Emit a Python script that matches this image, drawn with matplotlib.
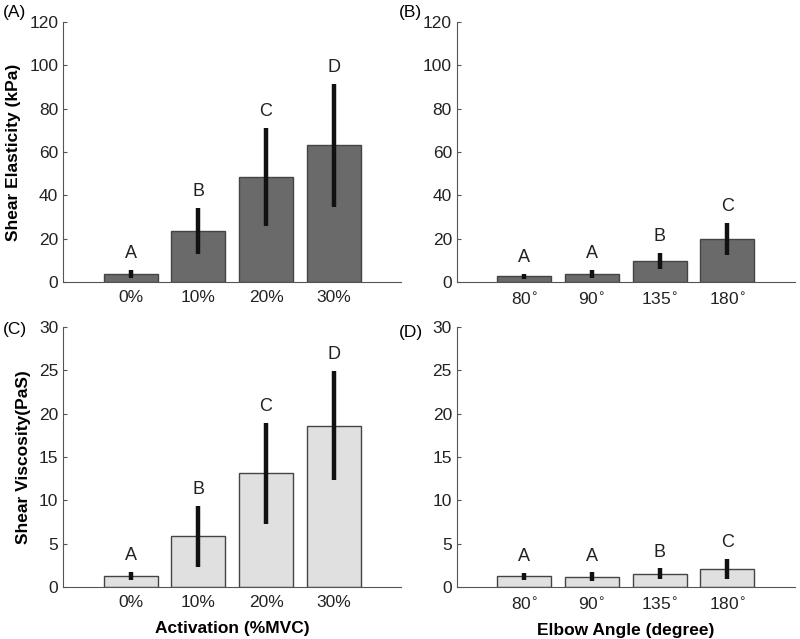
import numpy as np
import matplotlib.pyplot as plt

plt.rcParams['font.family'] = ['Liberation Sans', 'DejaVu Sans']

activation = ["0%", "10%", "20%", "30%"]
angles = ["80$^{\\circ}$", "90$^{\\circ}$", "135$^{\\circ}$", "180$^{\\circ}$"]

# shear elasticity (kPa)
elast_act = [3.8, 23.6, 48.5, 63.1]
elast_act_sd = [1.9, 10.5, 22.5, 28.5]
elast_ang = [2.6, 3.7, 9.7, 20.0]
elast_ang_sd = [1.1, 2.0, 3.8, 7.4]

# shear viscosity (PaS)
visc_act = [1.23, 5.85, 13.1, 18.6]
visc_act_sd = [0.48, 3.5, 5.8, 6.3]
visc_ang = [1.23, 1.2, 1.52, 2.1]
visc_ang_sd = [0.38, 0.5, 0.63, 1.15]

letters_act = ["A", "B", "C", "D"]
letters_ang = ["A", "A", "B", "C"]

dark = "#6a6a6a"
light = "#e0e0e0"
spine_col = "#555555"


def panel(ax, labels, vals, sds, letters, color, ymax, ystep):
    x = np.arange(1, len(vals) + 1)
    ax.bar(x, vals, width=0.8, color=color, edgecolor="#444444", linewidth=1.0)
    ax.errorbar(x, vals, yerr=sds, fmt="none", ecolor="#111111", elinewidth=3.2, capsize=0)
    off = ymax / 16.0
    for xi, v, s, t in zip(x, vals, sds, letters):
        ax.text(xi, v + s + off, t, ha="center", va="center", fontsize=13, color="#222222")
    ax.set_xlim(0, 5)
    ax.set_ylim(0, ymax)
    ax.set_yticks(np.arange(0, ymax + 1, ystep))
    ax.set_xticks(x)
    ax.set_xticklabels(labels)
    for s in ["top", "right"]:
        ax.spines[s].set_visible(False)
    for s in ["left", "bottom"]:
        ax.spines[s].set_color(spine_col)
    ax.tick_params(axis="y", direction="in", length=3, color=spine_col,
                   labelsize=12.5, labelcolor="#222222")
    ax.tick_params(axis="x", length=0, labelsize=12.5, pad=6, labelcolor="#222222")


fig = plt.figure(figsize=(8, 6.39), dpi=100)
w, h = 0.4225, 0.4069
axA = fig.add_axes([0.079, 0.5587, w, h])
axB = fig.add_axes([0.571, 0.5587, w, h])
axC = fig.add_axes([0.079, 0.0814, w, h])
axD = fig.add_axes([0.571, 0.0814, w, h])

panel(axA, activation, elast_act, elast_act_sd, letters_act, dark, 120, 20)
panel(axB, angles, elast_ang, elast_ang_sd, letters_ang, dark, 120, 20)
panel(axC, activation, visc_act, visc_act_sd, letters_act, light, 30, 5)
panel(axD, angles, visc_ang, visc_ang_sd, letters_ang, light, 30, 5)

axA.set_ylabel("Shear Elasticity (kPa)", fontsize=12.5, fontweight="bold", labelpad=6)
axC.set_ylabel("Shear Viscosity(PaS)", fontsize=12.5, fontweight="bold", labelpad=6)
axC.set_xlabel("Activation (%MVC)", fontsize=12.5, fontweight="bold", labelpad=8)
axD.set_xlabel("Elbow Angle (degree)", fontsize=12.5, fontweight="bold", labelpad=8)

fig.text(0.003, 0.981, "(A)", fontsize=12.5, va="center")
fig.text(0.498, 0.981, "(B)", fontsize=12.5, va="center")
fig.text(0.003, 0.484, "(C)", fontsize=12.5, va="center")
fig.text(0.498, 0.479, "(D)", fontsize=12.5, va="center")

fig.savefig("out.png", dpi=100)
